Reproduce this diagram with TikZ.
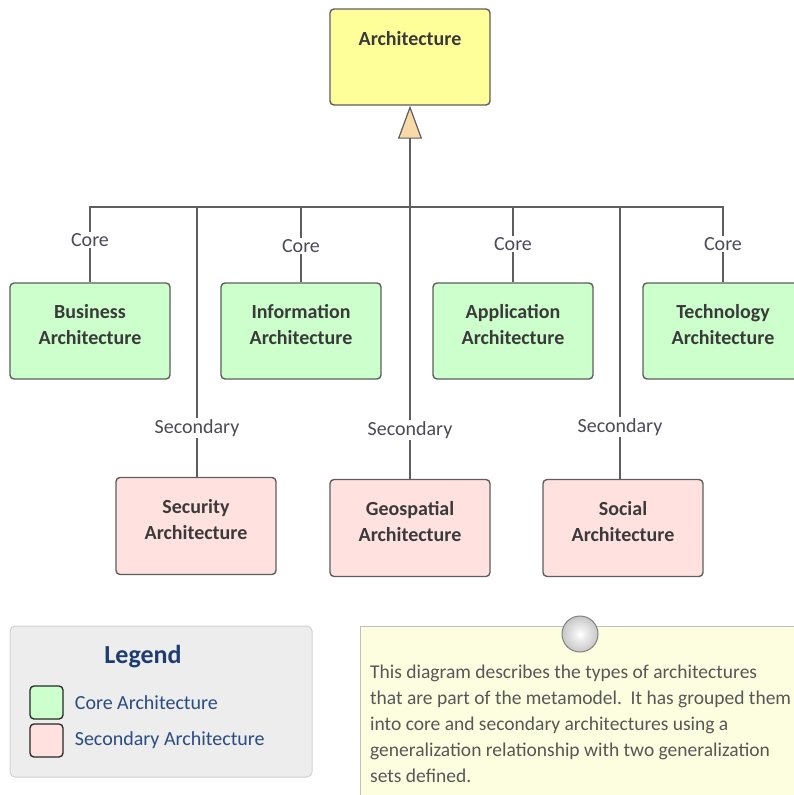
\documentclass[tikz,border=0pt]{standalone}
\usepackage{fontspec}
\setmainfont{Carlito}
\usetikzlibrary{arrows.meta,shadings}
\definecolor{boxline}{HTML}{5E5E5E}
\definecolor{boxtext}{HTML}{3A3A3A}
\definecolor{archfill}{HTML}{FFFF99}
\definecolor{corefill}{HTML}{CCFFCC}
\definecolor{secfill}{HTML}{FFE2E0}
\definecolor{tipfill}{HTML}{F8D9A8}
\definecolor{lbltext}{HTML}{4A4A58}
\definecolor{legblue}{HTML}{1F3C70}
\definecolor{legtext}{HTML}{2A4C82}
\definecolor{notefill}{HTML}{FDFDE0}
\tikzset{
  archbox/.style={draw=boxline, line width=1.4pt, rounded corners=4pt, minimum width=160pt,
    inner sep=0pt, text=boxtext, font=\fontsize{20}{26}\selectfont\bfseries},
  corebox/.style={archbox, fill=corefill, text height=61pt, text depth=35pt, align=center},
  secbox/.style={archbox, fill=secfill, text height=62pt, text depth=35pt, align=center},
  genline/.style={draw=boxline, line width=1.4pt},
  setlabel/.style={fill=white, inner sep=1.5pt, text=lbltext, font=\fontsize{20}{22}\selectfont},
  swatch/.style={draw=black!85, line width=1.3pt, rounded corners=4pt, minimum size=33pt, inner sep=0pt},
  legitem/.style={anchor=west, text=legtext, font=\fontsize{20}{22}\selectfont, inner sep=0pt}
}
\begin{document}
\begin{tikzpicture}[x=1pt,y=-1pt]
  \useasboundingbox (0,0) rectangle (794,795);
  \clip (0,0) rectangle (794,795);
  \node[archbox, fill=archfill, text height=36pt, text depth=60pt] (arch) at (410,57) {Architecture};
  \node[corebox] (business) at (90,331) {Business\\Architecture};
  \node[corebox] (information) at (301,331) {Information\\Architecture};
  \node[corebox] (application) at (513,331) {Application\\Architecture};
  \node[corebox] (technology) at (723,331) {Technology\\Architecture};
  \node[secbox] (security) at (196,526) {Security\\Architecture};
  \node[secbox] (geospatial) at (410,528) {Geospatial\\Architecture};
  \node[secbox] (social) at (623,528) {Social\\Architecture};
  \coordinate (bus) at (410,207);
  \draw[genline, -{Triangle[length=33pt,width=24pt,fill=tipfill,line width=1.2pt]}] (bus) -- (arch.south);
  \draw[genline] (bus) -| (business.north) node[setlabel, pos=0.717] {Core};
  \draw[genline] (bus) -| (information.north) node[setlabel, pos=0.757] {Core};
  \draw[genline] (bus) -| (application.north) node[setlabel, pos=0.743] {Core};
  \draw[genline] (bus) -| (technology.north) node[setlabel, pos=0.743] {Core};
  \draw[genline] (bus) -| ([xshift=1pt]security.north) node[setlabel, pos=0.91] {Secondary};
  \draw[genline] (bus) -- (geospatial.north) node[setlabel, pos=0.82] {Secondary};
  \draw[genline] (bus) -| ([xshift=-3pt]social.north) node[setlabel, pos=0.905] {Secondary};
  \draw[draw=black!18, fill=black!7, line width=1pt, rounded corners=5pt] (10,626) rectangle (312,777);
  \node[text=legblue, font=\fontsize{26}{28}\selectfont\bfseries] (legend) at (143,657) {Legend};
  \node[swatch, fill=corefill] (coresw) at (46.5,702.5) {};
  \node[swatch, fill=secfill] (secsw) at (46.5,740.5) {};
  \node[legitem] (coretxt) at ([xshift=11pt]coresw.east) {Core Architecture};
  \node[legitem] (sectxt) at ([xshift=11pt]secsw.east) {Secondary Architecture};
  \draw[draw=black!25, fill=notefill, line width=1pt] (360,800) -- (360,626) -- (800,626) -- (800,800);
  \shade[inner color=white, outer color=black!22, draw=black!50, line width=1pt] (580,634) circle (18pt);
  \node[anchor=north west, align=left, inner sep=0pt, text=boxtext!85,
    font=\fontsize{19.5}{26}\selectfont] (note) at (370,665)
    {This diagram describes the types of architectures\\
     that are part of the metamodel.\ \ It has grouped them\\
     into core and secondary architectures using a\\
     generalization relationship with two generalization\\
     sets defined.};
\end{tikzpicture}
\end{document}
